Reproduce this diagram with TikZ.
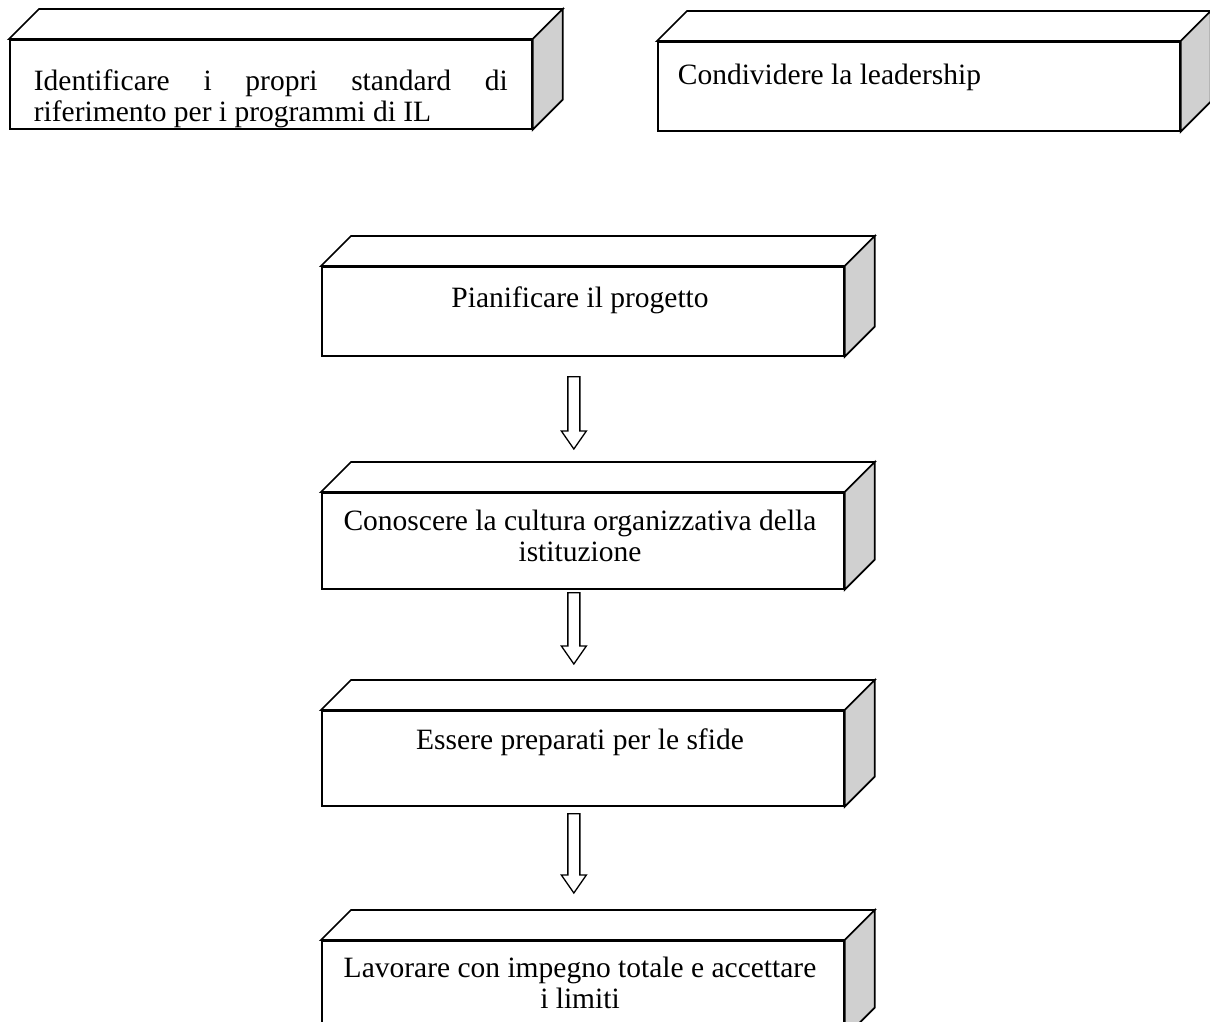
\documentclass[tikz,border=0pt]{standalone}
\usepackage{fontspec}
\setmainfont{Liberation Serif}
\usetikzlibrary{calc}
\definecolor{sidegray}{RGB}{208,208,208}
\newcommand\mycuboid[1]{%
  \draw[topface] (#1.north west) -- ++(30,-30) -- ($(#1.north east)+(30,-30)$) -- (#1.north east) -- cycle;
  \draw[sideface] (#1.north east) -- ++(30,-30) -- ($(#1.south east)+(30,-30)$) -- (#1.south east) -- cycle;}
\begin{document}
\begin{tikzpicture}[x=1pt,y=-1pt, line width=1.7pt, line join=miter,
  topface/.style={draw=black, fill=white},
  sideface/.style={draw=black, fill=sidegray},
  front/.style={draw=black, fill=white, inner sep=0pt, minimum width=522pt, anchor=north west},
  txt/.style={font=\fontsize{29.5}{31}\selectfont, inner sep=0pt, anchor=base},
  blockarrow/.style={draw=black, fill=white, line width=1.3pt,
    to path={let \p1=(\tikztostart), \p2=(\tikztotarget) in
      (\x1-6pt,\y1) -- (\x1+6pt,\y1) -- (\x1+6pt,\y2+18pt) -- (\x1+12.5pt,\y2+18pt)
      -- (\x1,\y2) -- (\x1-12.5pt,\y2+18pt) -- (\x1-6pt,\y2+18pt) -- cycle}}]
\useasboundingbox (0,0) rectangle (1210,1021);
\clip (0,0) rectangle (1210,1021);
% boxes (front faces)
\node[front, minimum height=89pt] (b1) at (9,39) {};
\node[front, minimum height=89pt] (b2) at (657,41) {};
\node[front, minimum height=89pt] (b3) at (321,266) {};
\node[front, minimum height=96pt] (b4) at (321,492) {};
\node[front, minimum height=95pt] (b5) at (321,710) {};
\node[front, minimum height=96pt] (b6) at (321,940) {};
\mycuboid{b1}
\mycuboid{b2}
\mycuboid{b3}
\mycuboid{b4}
\mycuboid{b5}
\mycuboid{b6}
% texts
\begin{scope}
\clip (b1.north west) rectangle (b1.south east);
\node[txt, anchor=base west] (t1a) at (33,90) {\makebox[474pt][s]{Identificare i propri standard di}};
\node[txt, anchor=base west] (t1b) at (33,121) {riferimento per i programmi di IL};
\end{scope}
\node[txt, anchor=base west] (t2) at (677,84) {Condividere la leadership};
\node[txt] (t3) at (580,307) {Pianificare il progetto};
\node[txt] (t4a) at (580,530) {Conoscere la cultura organizzativa della};
\node[txt] (t4b) at (580,561) {istituzione};
\node[txt] (t5) at (580,749) {Essere preparati per le sfide};
\node[txt] (t6a) at (580,977) {Lavorare con impegno totale e accettare};
\node[txt] (t6b) at (580,1008) {i limiti};
% arrows
\coordinate (a1s) at ($(b3.south)+(-9,20)$);
\coordinate (a1e) at ($(b4.north)+(-9,-43)$);
\coordinate (a2s) at ($(b4.south)+(-9,3)$);
\coordinate (a2e) at ($(b5.north)+(-9,-46)$);
\coordinate (a3s) at ($(b5.south)+(-9,7)$);
\coordinate (a3e) at ($(b6.north)+(-9,-47)$);
\draw[blockarrow] (a1s) to (a1e);
\draw[blockarrow] (a2s) to (a2e);
\draw[blockarrow] (a3s) to (a3e);
\end{tikzpicture}
\end{document}
